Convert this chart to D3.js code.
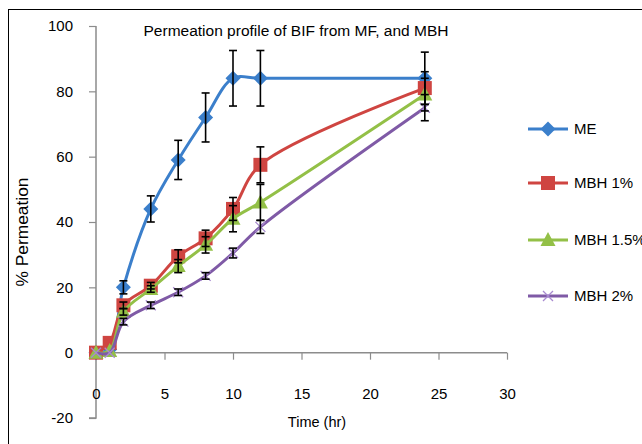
<!DOCTYPE html>
<html><head><meta charset="utf-8">
<script src="https://cdn.jsdelivr.net/npm/d3@7"></script>
<style>body{margin:0;background:#fff;} svg{display:block;} text{font-family:"Liberation Sans",Arial,sans-serif;}</style>
</head><body>
<svg id="c" width="642" height="444"></svg>
<script>
const times = [0, 1, 2, 4, 6, 8, 10, 12, 24];
const seriesNames = ["ME", "MBH 1%", "MBH 1.5%", "MBH 2%"];
const meValues   = [0, 1, 20, 44, 59, 72, 84, 84, 84];
const mbh1Values = [0, 3, 14.5, 20.5, 29.5, 35, 44, 57.5, 81];
const mbh15Values= [0, 0.5, 12.5, 19.5, 26.5, 33, 41, 46, 79];
const mbh2Values = [0, 0, 9.5, 14.5, 18.5, 23.5, 30.5, 38.5, 75];
const meErr   = [0, 0, 2, 4, 6, 7.5, 8.5, 8.5, 8];
const mbh1Err = [0, 0, 1, 1, 2, 2.5, 3.5, 5.5, 5];
const mbh15Err= [0, 0, 1, 1, 2, 2.5, 4, 5.5, 5];
const mbh2Err = [0, 0, 1, 1, 1, 1, 1.5, 2, 4];
const xTicks = [0, 5, 10, 15, 20, 25, 30];
const yTicks = [-20, 0, 20, 40, 60, 80, 100];
const colors = ["#3b7fcb", "#cf4541", "#93c047", "#7f5aa6"];
const markers = ["diamond", "square", "triangle", "cross"];

const allValues = [meValues, mbh1Values, mbh15Values, mbh2Values];
const allErr = [meErr, mbh1Err, mbh15Err, mbh2Err];

const svg = d3.select("#c");
svg.append("rect").attr("x", 8.5).attr("y", 9.5).attr("width", 700).attr("height", 500)
  .attr("fill", "none").attr("stroke", "#000").attr("stroke-width", 1);

const x = d3.scaleLinear().domain([0, 30]).range([96, 507]);
const y = d3.scaleLinear().domain([-20, 100]).range([418, 26]);

// y axis
const yAxis = d3.axisLeft(y).tickValues(yTicks).tickSize(7).tickPadding(16).tickFormat(d => String(d));
const gy = svg.append("g").attr("transform", `translate(${x(0)},0)`).call(yAxis);
gy.select(".domain").attr("stroke", "#8c8c8c").attr("stroke-width", 1.5).attr("d", `M-7,${y(-20)}H0V${y(100)}`);
gy.selectAll(".tick line").attr("stroke", "#8c8c8c").attr("stroke-width", 1.2);
gy.selectAll(".tick text").attr("font-size", 15).attr("fill", "#000").style("font-family", "Liberation Sans, Arial, sans-serif");

// x axis at y=0
const xAxis = d3.axisBottom(x).tickValues(xTicks).tickSize(7).tickPadding(29).tickFormat(d => String(d));
const gx = svg.append("g").attr("transform", `translate(0,${y(0)})`).call(xAxis);
gx.select(".domain").attr("stroke", "#8c8c8c").attr("stroke-width", 1.5).attr("d", `M${x(0)},0H${x(30)}`);
gx.selectAll(".tick line").attr("stroke", "#8c8c8c").attr("stroke-width", 1.2);
gx.selectAll(".tick text").attr("font-size", 15).attr("fill", "#000").style("font-family", "Liberation Sans, Arial, sans-serif");

// title & axis labels
svg.append("text").attr("x", 296).attr("y", 36).attr("text-anchor", "middle")
  .attr("font-size", 15.5).text("Permeation profile of BIF from MF, and MBH");
svg.append("text").attr("x", 317).attr("y", 427).attr("text-anchor", "middle")
  .attr("font-size", 14.5).text("Time (hr)");
svg.append("text").attr("transform", "translate(28,232) rotate(-90)").attr("text-anchor", "middle")
  .attr("font-size", 16).attr("textLength", 109).attr("lengthAdjust", "spacingAndGlyphs").text("% Permeation");

const line = d3.line().x(d => x(d[0])).y(d => y(d[1])).curve(d3.curveCatmullRom.alpha(0.5));

function markerPath(type) {
  if (type === "diamond") return "M0,-7.5L7.5,0L0,7.5L-7.5,0Z";
  if (type === "square") return "M-7,-7H7V7H-7Z";
  if (type === "triangle") return "M0,-8L7.5,6H-7.5Z";
  return "M-5,-5L5,5M-5,5L5,-5";
}

allValues.forEach((vals, i) => {
  const pts = times.map((t, j) => [t, vals[j]]);
  svg.append("path").attr("d", line(pts)).attr("fill", "none")
    .attr("stroke", colors[i]).attr("stroke-width", 3);
  svg.append("g").selectAll("path").data(pts).join("path")
    .attr("transform", d => `translate(${x(d[0])},${y(d[1])})`)
    .attr("d", markerPath(markers[i]))
    .attr("fill", markers[i] === "cross" ? "none" : colors[i])
    .attr("stroke", markers[i] === "cross" ? "#a88ad0" : "none")
    .attr("stroke-width", 1.3);
});

// error bars
allValues.forEach((vals, i) => {
  const g = svg.append("g").attr("stroke", "#000").attr("stroke-width", 1.6);
  times.forEach((t, j) => {
    const e = allErr[i][j];
    if (e <= 0) return;
    const cx = x(t), y1 = y(vals[j] + e), y2 = y(vals[j] - e);
    g.append("line").attr("x1", cx).attr("x2", cx).attr("y1", y1).attr("y2", y2);
    g.append("line").attr("x1", cx - 4).attr("x2", cx + 4).attr("y1", y1).attr("y2", y1);
    g.append("line").attr("x1", cx - 4).attr("x2", cx + 4).attr("y1", y2).attr("y2", y2);
  });
});

// legend
const legendY = [129, 183, 240, 296];
seriesNames.forEach((name, i) => {
  const g = svg.append("g").attr("transform", `translate(528,${legendY[i]})`);
  g.append("line").attr("x1", 0).attr("x2", 40).attr("y1", 0).attr("y2", 0)
    .attr("stroke", colors[i]).attr("stroke-width", 3);
  g.append("path").attr("transform", "translate(20,0)").attr("d", markerPath(markers[i]))
    .attr("fill", markers[i] === "cross" ? "none" : colors[i])
    .attr("stroke", markers[i] === "cross" ? "#a88ad0" : "none").attr("stroke-width", 1.3);
  g.append("text").attr("x", 46).attr("y", 5).attr("font-size", 15).text(name);
});
</script>
</body></html>
